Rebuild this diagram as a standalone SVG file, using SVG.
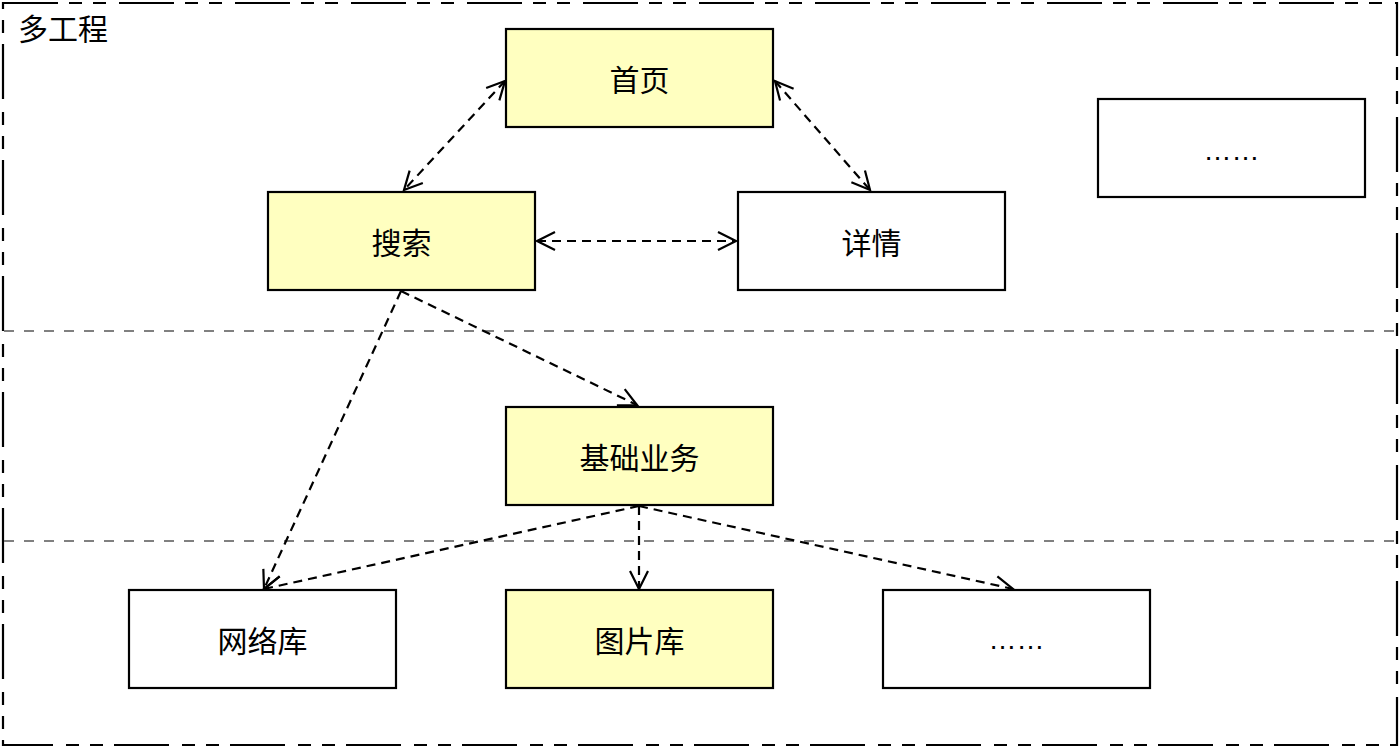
<svg xmlns="http://www.w3.org/2000/svg" width="1400" height="748" viewBox="0 0 1400 748">
<defs>
<style>
.box{stroke:#000;stroke-width:2.2}
.y{fill:#ffffc0}
.w{fill:#fff}
.t{font-family:"Noto Sans CJK SC","Liberation Sans",sans-serif;font-size:30px;fill:#000;text-anchor:middle;dominant-baseline:central}
.d{font-family:"Liberation Sans",sans-serif;font-size:28px;fill:#000;text-anchor:middle}
.e{stroke:#000;stroke-width:2.2;stroke-dasharray:9 6;fill:none}
.sep{stroke:#808080;stroke-width:2;stroke-dasharray:10 10}
</style>
<marker id="a" viewBox="0 0 24 24" refX="20" refY="12" markerWidth="24" markerHeight="24" markerUnits="userSpaceOnUse" orient="auto-start-reverse">
<path d="M2,3 L20,12 L2,21" fill="none" stroke="#000" stroke-width="2.2"/>
</marker>
</defs>
<rect width="1400" height="748" fill="#fff"/>
<rect x="3" y="3" width="1394" height="742" fill="none" stroke="#000" stroke-width="2.2" stroke-dasharray="55 11 13 11 13 13"/>
<text x="18" y="27" font-family="Noto Sans CJK SC, sans-serif" font-size="30" dominant-baseline="central">多工程</text>
<line class="sep" x1="4" y1="331" x2="1396" y2="331"/>
<line class="sep" x1="4" y1="541" x2="1396" y2="541"/>
<g id="connectors">
<line class="e" x1="505" y1="81" x2="404" y2="190" marker-start="url(#a)" marker-end="url(#a)"/>
<line class="e" x1="775" y1="81" x2="870" y2="190" marker-start="url(#a)" marker-end="url(#a)"/>
<line class="e" x1="537" y1="241" x2="736" y2="241" marker-start="url(#a)" marker-end="url(#a)"/>
<line class="e" x1="401" y1="291" x2="637" y2="405" marker-end="url(#a)"/>
<line class="e" x1="401" y1="291" x2="264" y2="589" marker-end="url(#a)"/>
<line class="e" x1="639" y1="506" x2="264" y2="589" marker-end="url(#a)"/>
<line class="e" x1="639" y1="506" x2="639" y2="589" marker-end="url(#a)"/>
<line class="e" x1="639" y1="506" x2="1013" y2="589" marker-end="url(#a)"/>
</g>
<g id="home"><rect class="box y" x="506" y="29" width="267" height="98"/><text class="t" x="639.5" y="78">首页</text></g>
<g id="search"><rect class="box y" x="268" y="192" width="267" height="98"/><text class="t" x="401.5" y="241">搜索</text></g>
<g id="detail"><rect class="box w" x="738" y="192" width="267" height="98"/><text class="t" x="871.5" y="241">详情</text></g>
<g id="more1"><rect class="box w" x="1098" y="99" width="267" height="98"/><text class="d" x="1231.5" y="160">……</text></g>
<g id="base"><rect class="box y" x="506" y="407" width="267" height="98"/><text class="t" x="639.5" y="456">基础业务</text></g>
<g id="network"><rect class="box w" x="129" y="590" width="267" height="98"/><text class="t" x="262.5" y="639">网络库</text></g>
<g id="image"><rect class="box y" x="506" y="590" width="267" height="98"/><text class="t" x="639.5" y="639">图片库</text></g>
<g id="more2"><rect class="box w" x="883" y="590" width="267" height="98"/><text class="d" x="1016.5" y="649">……</text></g>
</svg>
